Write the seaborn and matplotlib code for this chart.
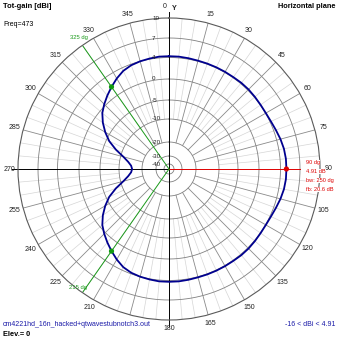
import numpy as np
import pandas as pd
import matplotlib
matplotlib.use("Agg")
import matplotlib.pyplot as plt
import matplotlib.transforms as mtransforms
import seaborn as sns

# ---------------- data ----------------
azimuth_deg = list(range(0, 360, 5))
gain_dbi = [
    4.2, 4.2, 4.15, 4.1, 4.1, 4.1, 4.1, 4.1, 4.15, 4.15, 4.1, 4.05,     # 0-55
    4.05, 4.15, 4.35, 4.6, 4.8, 4.9, 4.91, 4.9, 4.8, 4.6, 4.35, 4.15,   # 60-115
    4.05, 4.05, 4.1, 4.15, 4.15, 4.1, 4.1, 4.1, 4.1, 4.1, 4.15, 4.2,    # 120-175
    4.2, 4.2, 4.1, 4.0, 3.8, 3.4, 2.7, 1.9, 1.1, 0.3, -0.7, -2.2,       # 180-235
    -3.9, -5.8, -8.3, -11.2, -13.7, -15.2, -15.7, -15.2, -13.7, -11.2, -8.3, -5.8,  # 240-295
    -3.9, -2.2, -0.7, 0.3, 1.1, 1.9, 2.7, 3.4, 3.8, 4.0, 4.1, 4.2,     # 300-355
]
ring_levels = [10, 7, 4, 0, -5, -10, -20, -30, -40]
ring_labels = ["10", "7", "4", "0", "-5", "-10", "-20", "-30", "-40"]
angle_ticks = [a for a in range(15, 360, 15) if a != 195]
max_dir, max_gain = 90, 4.91
bw_dirs = [325, 215]
bw_gain = 1.91

# ---------------- scale (dB -> pixel radius) ----------------
_lv = [-40, -30, -20, -10, -5, 0, 4, 7, 10]
_rp = [5, 13, 27, 50, 69, 90, 111.5, 131, 151]
def rad(db):
    return np.interp(db, _lv, _rp)

W = 339
C = 169.0
R = 151.0
fig = plt.figure(figsize=(W / 100, W / 100), dpi=100)
fig.patch.set_facecolor("white")
ax = fig.add_axes([(C - R) / W, (W - C - R) / W, 2 * R / W, 2 * R / W], projection="polar")
ax.set_theta_zero_location("N")
ax.set_theta_direction(-1)
ax.set_ylim(0, R)
ax.grid(False)
ax.set_xticks([])
ax.set_yticks([])
ax.spines["polar"].set_color("#5a5a5a")
ax.spines["polar"].set_linewidth(0.8)

full = np.linspace(0, 2 * np.pi, 361)
# rings
for lv in ring_levels[1:]:
    ax.plot(full, np.full_like(full, rad(lv)), color="#808080", lw=0.6, zorder=1)
# radial lines
for a in range(0, 360, 5):
    if a % 90 == 0:
        continue
    th = np.deg2rad(a)
    if a % 15 == 0:
        ax.plot([th, th], [rad(-20), R], color="#8a8a8a", lw=0.6, zorder=1)
    else:
        ax.plot([th, th], [rad(-10), R], color="#d6d6d6", lw=0.5, zorder=0.9)

# axes cross
ax.plot([0, 0], [0, 157], color="black", lw=0.7, clip_on=False, zorder=2)
ax.plot([np.pi, np.pi], [0, 157], color="black", lw=0.7, clip_on=False, zorder=2)
ax.plot([1.5 * np.pi, 1.5 * np.pi], [0, 157], color="black", lw=0.7, clip_on=False, zorder=2)
ax.plot([np.deg2rad(max_dir)] * 2, [0, rad(7)], color="#dd0000", lw=0.7, zorder=2)
for d in bw_dirs:
    ax.plot([np.deg2rad(d)] * 2, [0, 150], color="#1a9a1a", lw=0.7, zorder=2)

# pattern
df = pd.DataFrame({"az": azimuth_deg + [360], "gain": gain_dbi + [gain_dbi[0]]})
df["theta"] = np.deg2rad(df["az"])
df["r"] = rad(df["gain"])
sns.lineplot(data=df, x="theta", y="r", ax=ax, sort=False, color="#00008f", lw=1.3, zorder=3)

pts = pd.DataFrame({"theta": np.deg2rad([max_dir] + bw_dirs),
                    "r": rad(np.array([max_gain, bw_gain, bw_gain])),
                    "kind": ["max", "bw", "bw"]})
sns.scatterplot(data=pts, x="theta", y="r", hue="kind", palette={"max": "#dd0000", "bw": "#119911"},
                s=14, edgecolor="none", ax=ax, legend=False, zorder=4)
ax.set_xlabel("")
ax.set_ylabel("")
ax.set_ylim(0, R)

# angle labels
for a in angle_ticks:
    ax.text(np.deg2rad(a), 160, str(a), ha="center", va="center", fontsize=5,
            family="Liberation Sans", color="#222222", clip_on=False)

# ring labels
off = mtransforms.ScaledTranslation(-17 / 100, 0, fig.dpi_scale_trans)
for lv, lb in zip(ring_levels, ring_labels):
    ax.text(0, rad(lv), lb, transform=ax.transData + off, ha="left", va="center",
            fontsize=4.5, family="Liberation Sans", color="#222222")

def ftext(x, y, s, **kw):
    kw.setdefault("family", "Liberation Sans")
    fig.text(x / W, 1 - y / W, s, va="center", **kw)

ftext(167, 7, "0", ha="right", fontsize=5, color="#222222")
ftext(172, 8, "Y", ha="left", fontsize=5.2, color="#222222", weight="bold")
ftext(3, 6, "Tot-gain [dBi]", ha="left", fontsize=5.4, weight="bold")
ftext(3, 25, "Freq=473", ha="left", fontsize=5)
ftext(335, 7, "Horizontal plane", ha="right", fontsize=5.3, weight="bold")
ftext(3, 325, "cm4221hd_16n_hacked+qtwavestubnotch3.out", ha="left", fontsize=5, color="#1a1aa8",
      bbox=dict(facecolor="white", edgecolor="none", pad=0.3))
ftext(3, 335, "Elev.= 0", ha="left", fontsize=5.3, weight="bold")
ftext(335, 324, "-16 < dBi < 4.91", ha="right", fontsize=5, color="#1a1aa8")

red_lines = [f"{max_dir} dg", f"{max_gain} dB", "bw: 250 dg", "fb: 20.6 dB"]
for i, s in enumerate(red_lines):
    ftext(306, 162.7 + 9 * i, s, ha="left", fontsize=4.1, color="#dd0000",
          bbox=dict(facecolor="white", edgecolor="none", pad=0.2))
ftext(79, 38, f"{bw_dirs[0]} dg", ha="center", fontsize=4.2, color="#1a9a1a")
ftext(78, 287, f"{bw_dirs[1]} dg", ha="center", fontsize=4.2, color="#1a9a1a")

fig.savefig("out.png", dpi=100, facecolor="white")
